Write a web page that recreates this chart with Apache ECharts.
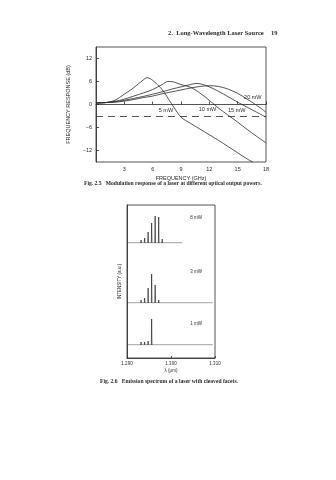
<!DOCTYPE html>
<html><head><meta charset="utf-8">
<script src="https://cdn.jsdelivr.net/npm/echarts@6/dist/echarts.min.js"></script>
<style>html,body{margin:0;padding:0;background:#fff}#c{width:336px;height:480px}</style>
</head><body><div id="c"></div>
<script>
// ---------- Fig. 2.5 data ----------
const freqTicks = [3, 6, 9, 12, 15, 18];
const respTicks = [-12, -6, 0, 6, 12];
const cutoffLevel = -3;
const powerNames = ['5 mW', '10 mW', '15 mW', '20 mW'];
const resp5mW = [[0,0.4],[1,0.5],[2,1.1],[3,2.7],[4,4.4],[5,6.4],[5.4,7.0],[6,6.3],[7,3.9],[8,0.2],[9,-3.3],[10,-4.9],[11,-6.4],[12,-7.9],[13,-9.4],[14,-11.0],[15,-12.6],[16,-14.2],[16.6,-15]];
const resp10mW = [[0,0.4],[1,0.5],[2,0.8],[3,1.4],[4,2.2],[5,3.0],[6,3.9],[7,5.2],[7.6,6.0],[8.2,5.9],[9,5.2],[10,4.5],[11,3.0],[12,1.1],[13,-1.0],[14,-2.8],[15,-4.6],[16,-6.5],[17,-8.3],[18,-10.0]];
const resp15mW = [[0,0.4],[1,0.5],[2,0.7],[3,1.1],[4,1.6],[5,2.1],[6,2.7],[7,3.3],[8,4.0],[9,4.6],[10,5.2],[10.6,5.5],[11.2,5.3],[12,4.6],[13,3.4],[14,2.0],[15,0.6],[16,-0.7],[17,-2.0],[18,-3.3]];
const resp20mW = [[0,0.4],[1,0.5],[2,0.6],[3,0.9],[4,1.3],[5,1.8],[6,2.2],[7,2.8],[8,3.3],[9,3.8],[10,4.3],[11,4.7],[12,4.9],[13,4.7],[14,4.0],[15,2.9],[16,1.4],[17,-0.2],[18,-2.0]];

// ---------- Fig. 2.6 data ----------
const wlTicks = [1.290, 1.300, 1.310];
const modeWl = [1.2924, 1.2932, 1.2940, 1.2948, 1.2956, 1.2964, 1.2972, 1.2980, 1.2988];
const int8mW = [0, 3, 5, 11, 20, 27, 26, 4, 1];
const int3mW = [1, 3, 5, 15, 29, 18, 3, 0, 0];
const int1mW = [0, 3, 3, 4, 26, 1, 0, 0, 0];
const spectrumNames = ['8 mW', '3 mW', '1 mW'];
const traceEnd = [1.3025, 1.3095, 1.3095];

// ---------- styles ----------
const ink = '#2a2a2a';
const sans = 'Liberation Sans';
const serif = 'Liberation Serif';

function spectrum(ints, endWl) {
  const w = 0.00007;
  const pts = [[1.290, 0]];
  modeWl.forEach((l, i) => {
    if (ints[i] > 0) { pts.push([l - w, 0], [l, ints[i]], [l + w, 0]); }
  });
  pts.push([endWl, 0]);
  return pts;
}

const respSeries = [resp5mW, resp10mW, resp15mW, resp20mW];
const labelAt = [[7.4, -1.5], [11.8, -1.2], [14.9, -1.5], [16.6, 1.7]];

const chart = echarts.init(document.getElementById('c'), null, {renderer: 'canvas'});

const series = respSeries.map((d, i) => ({
  type: 'line', xAxisIndex: 0, yAxisIndex: 0, name: powerNames[i], data: d,
  smooth: 0.3, showSymbol: false, symbol: 'none', silent: true,
  lineStyle: {color: ink, width: 0.8},
  markPoint: {
    symbol: 'rect', symbolSize: [1, 1], silent: true,
    itemStyle: {color: 'rgba(0,0,0,0)'},
    label: {show: true, position: 'inside', formatter: powerNames[i], color: ink, fontSize: 5.5, fontFamily: sans},
    data: [{coord: labelAt[i]}]
  },
  markLine: i === 0 ? {
    symbol: 'none', silent: true, label: {show: false},
    lineStyle: {color: ink, width: 0.8, type: [7, 5]},
    data: [{yAxis: cutoffLevel}]
  } : undefined
}));

const specData = [int8mW, int3mW, int1mW];
const specMax = [38, 60, 42];
const specLabelAt = [[1.3057, 25], [1.3057, 31], [1.3057, 21]];
specData.forEach((ints, k) => {
  series.push({
    type: 'line', xAxisIndex: k + 2, yAxisIndex: k + 2, data: spectrum(ints, traceEnd[k]),
    showSymbol: false, symbol: 'none', silent: true,
    lineStyle: {color: ink, width: 0.7},
    markPoint: {
      symbol: 'rect', symbolSize: [1, 1], silent: true,
      itemStyle: {color: 'rgba(0,0,0,0)'},
      label: {show: true, position: 'inside', formatter: spectrumNames[k], color: ink, fontSize: 4.5, fontFamily: sans},
      data: [{coord: specLabelAt[k]}]
    }
  });
});

const hidden = {show: false};
function panelX(i) {
  return {gridIndex: i, type: 'value', min: 1.290, max: 1.310, show: false};
}
function panelY(i, max) {
  return {gridIndex: i, type: 'value', min: 0, max: max, show: false};
}

const option = {
  animation: false,
  backgroundColor: '#fff',
  title: [
    {text: '2.  Long-Wavelength Laser Source', left: 168, top: 30, padding: 0,
     textStyle: {fontFamily: serif, fontSize: 6.5, fontWeight: 'bold', color: ink}},
    {text: '19', left: 271, top: 30, padding: 0,
     textStyle: {fontFamily: serif, fontSize: 6.5, fontWeight: 'bold', color: ink}},
    {text: '{b|Fig. 2.5}   Modulation response of a laser at different optical output powers.',
     left: 84, top: 181, padding: 0,
     textStyle: {fontFamily: serif, fontSize: 5.6, color: ink,
       rich: {b: {fontFamily: serif, fontSize: 5.6, fontWeight: 'bold', color: ink}}}},
    {text: '{b|Fig. 2.6}   Emission spectrum of a laser with cleaved facets.',
     left: 100, top: 379, padding: 0,
     textStyle: {fontFamily: serif, fontSize: 5.6, color: ink,
       rich: {b: {fontFamily: serif, fontSize: 5.6, fontWeight: 'bold', color: ink}}}}
  ],
  grid: [
    {left: 96, top: 47, width: 170, height: 115, show: true, borderColor: ink, borderWidth: 0.8, backgroundColor: 'transparent'},
    {left: 127, top: 205, width: 88, height: 153, show: true, borderColor: ink, borderWidth: 0.8, backgroundColor: 'transparent'},
    {left: 127, top: 205, width: 88, height: 38},
    {left: 127, top: 243, width: 88, height: 60},
    {left: 127, top: 303, width: 88, height: 42}
  ],
  xAxis: [
    {gridIndex: 0, type: 'value', min: 0, max: 18,
     axisLine: {show: true, lineStyle: {color: ink, width: 0.8}},
     axisTick: {show: true, inside: true, length: 3, customValues: freqTicks, lineStyle: {color: ink, width: 0.8}},
     axisLabel: {customValues: freqTicks, fontSize: 5.5, fontFamily: sans, color: ink, margin: 4},
     splitLine: hidden,
     name: 'FREQUENCY (GHz)', nameLocation: 'middle', nameGap: 13,
     nameTextStyle: {fontSize: 5.5, fontFamily: sans, color: ink}},
    {gridIndex: 1, type: 'value', min: 1.290, max: 1.310,
     axisLine: {show: true, lineStyle: {color: ink, width: 0.8}},
     axisTick: {show: true, inside: true, length: 2, customValues: wlTicks, lineStyle: {color: ink, width: 0.8}},
     axisLabel: {customValues: wlTicks, formatter: v => v.toFixed(3), fontSize: 4.5, fontFamily: sans, color: ink, margin: 3},
     splitLine: hidden,
     name: 'λ (μm)', nameLocation: 'middle', nameGap: 10,
     nameTextStyle: {fontSize: 4.5, fontFamily: sans, color: ink}},
    panelX(2), panelX(3), panelX(4)
  ],
  yAxis: [
    {gridIndex: 0, type: 'value', min: -15, max: 15,
     axisLine: {show: true, lineStyle: {color: ink, width: 0.8}},
     axisTick: {show: true, inside: true, length: 3, customValues: respTicks, lineStyle: {color: ink, width: 0.8}},
     axisLabel: {customValues: respTicks, formatter: v => (v < 0 ? '\u2212' + (-v) : String(v)), fontSize: 5.5, fontFamily: sans, color: ink, margin: 4},
     splitLine: hidden,
     name: 'FREQUENCY RESPONSE (dB)', nameLocation: 'middle', nameGap: 16, nameRotate: 90,
     nameTextStyle: {fontSize: 5.5, fontFamily: sans, color: ink}},
    {gridIndex: 1, type: 'value', min: 0, max: 1,
     axisLine: {show: true, lineStyle: {color: ink, width: 0.8}},
     axisTick: hidden, axisLabel: hidden, splitLine: hidden,
     name: 'INTENSITY (a.u.)', nameLocation: 'middle', nameGap: 5, nameRotate: 90,
     nameTextStyle: {fontSize: 4.5, fontFamily: sans, color: ink}},
    panelY(2, specMax[0]), panelY(3, specMax[1]), panelY(4, specMax[2])
  ],
  series: series
};
chart.setOption(option);
</script>
</body></html>
